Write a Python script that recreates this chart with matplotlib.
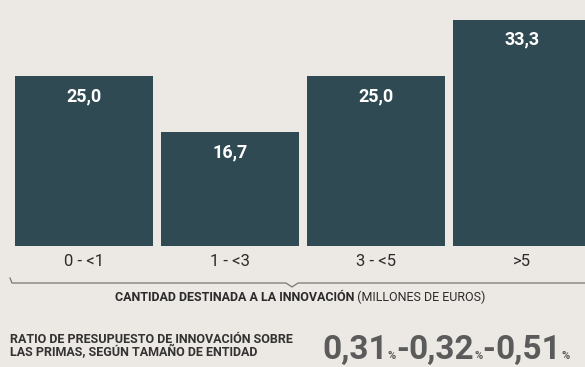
import matplotlib
matplotlib.use("Agg")
import matplotlib.pyplot as plt

# innovation budget share by company size (millions of euros)
categories = ["0 - <1", "1 - <3", "3 - <5", ">5"]
values = [25.0, 16.7, 25.0, 33.3]
ratios = ["0,31", "0,32", "0,51"]

BG = "#ece8e3"
BAR = "#2f4a53"
INK = "#2b2b2b"
GREY = "#5b5b5b"
NARROW = ["Roboto", "DejaVu Sans"]

W, H = 585, 367
fig = plt.figure(figsize=(W / 100, H / 100), dpi=100, facecolor=BG)

def fx(px):
    return px / W

def fy(py):
    return 1 - py / H

# axes spans full width; bars sit on y=246 px
ax = fig.add_axes([0, fy(246), 1, 246 / H])
ax.set_facecolor(BG)
pitch = 146
ax.set_xlim(-84 / pitch, (W - 84) / pitch)
ax.set_ylim(0, 246 / 6.8)
x = range(len(categories))
bars = ax.bar(x, values, width=138 / pitch, color=BAR)
for b, v in zip(bars, values):
    ax.annotate(f"{v:.1f}".replace(".", ","), (b.get_x() + b.get_width() / 2, v),
                xytext=(0, -14.5), textcoords="offset points", ha="center", va="center",
                color="white", fontsize=13, family=NARROW, fontweight="bold")
ax.axis("off")

# category labels under the bars
for i, c in enumerate(categories):
    fig.text(fx(84 + i * pitch), fy(261), c, ha="center", va="center",
             fontsize=12, color=INK, family=NARROW)

# bracket under the categories
fig.lines.append(plt.Line2D([fx(10), fx(12), fx(286), fx(292), fx(298), fx(585)],
                            [fy(278), fy(283), fy(283), fy(287), fy(283), fy(283)],
                            transform=fig.transFigure, color="#777777", lw=0.9))

fig.canvas.draw()
r = fig.canvas.get_renderer()

def run(pieces, x0, y0):
    # lay out text pieces one after another on the same baseline
    xs = x0
    for s, kw in pieces:
        t = fig.text(fx(xs), fy(y0), s, va="baseline", ha="left", **kw)
        xs += t.get_window_extent(r).width
    return xs

bold_n = dict(fontsize=9, family=NARROW, fontweight="bold", color=INK)
reg_n = dict(fontsize=9, family=NARROW, color=INK)
tmp = [("CANTIDAD DESTINADA A LA INNOVACIÓN", bold_n), (" (MILLONES DE EUROS)", reg_n)]
width = 0
for s, kw in tmp:
    t = fig.text(0, 0, s, **kw)
    width += t.get_window_extent(r).width
    t.remove()
run(tmp, 300 - width / 2, 301)

fig.text(fx(10), fy(346), "RATIO DE PRESUPUESTO DE INNOVACIÓN SOBRE\nLAS PRIMAS, SEGÚN TAMAÑO DE ENTIDAD",
         ha="left", va="center", fontsize=9, family=NARROW, fontweight="bold",
         color="#333333", linespacing=0.95)

big = dict(fontsize=24, family=NARROW, fontweight="bold", color=GREY)
small = dict(fontsize=8, family=NARROW, fontweight="bold", color=GREY)
pieces = []
for i, rv in enumerate(ratios):
    pieces.append((rv, big))
    pieces.append(("%", small))
    if i < len(ratios) - 1:
        pieces.append(("-", big))
run(pieces, 322, 359)

fig.savefig("out.png", dpi=100, facecolor=BG)
